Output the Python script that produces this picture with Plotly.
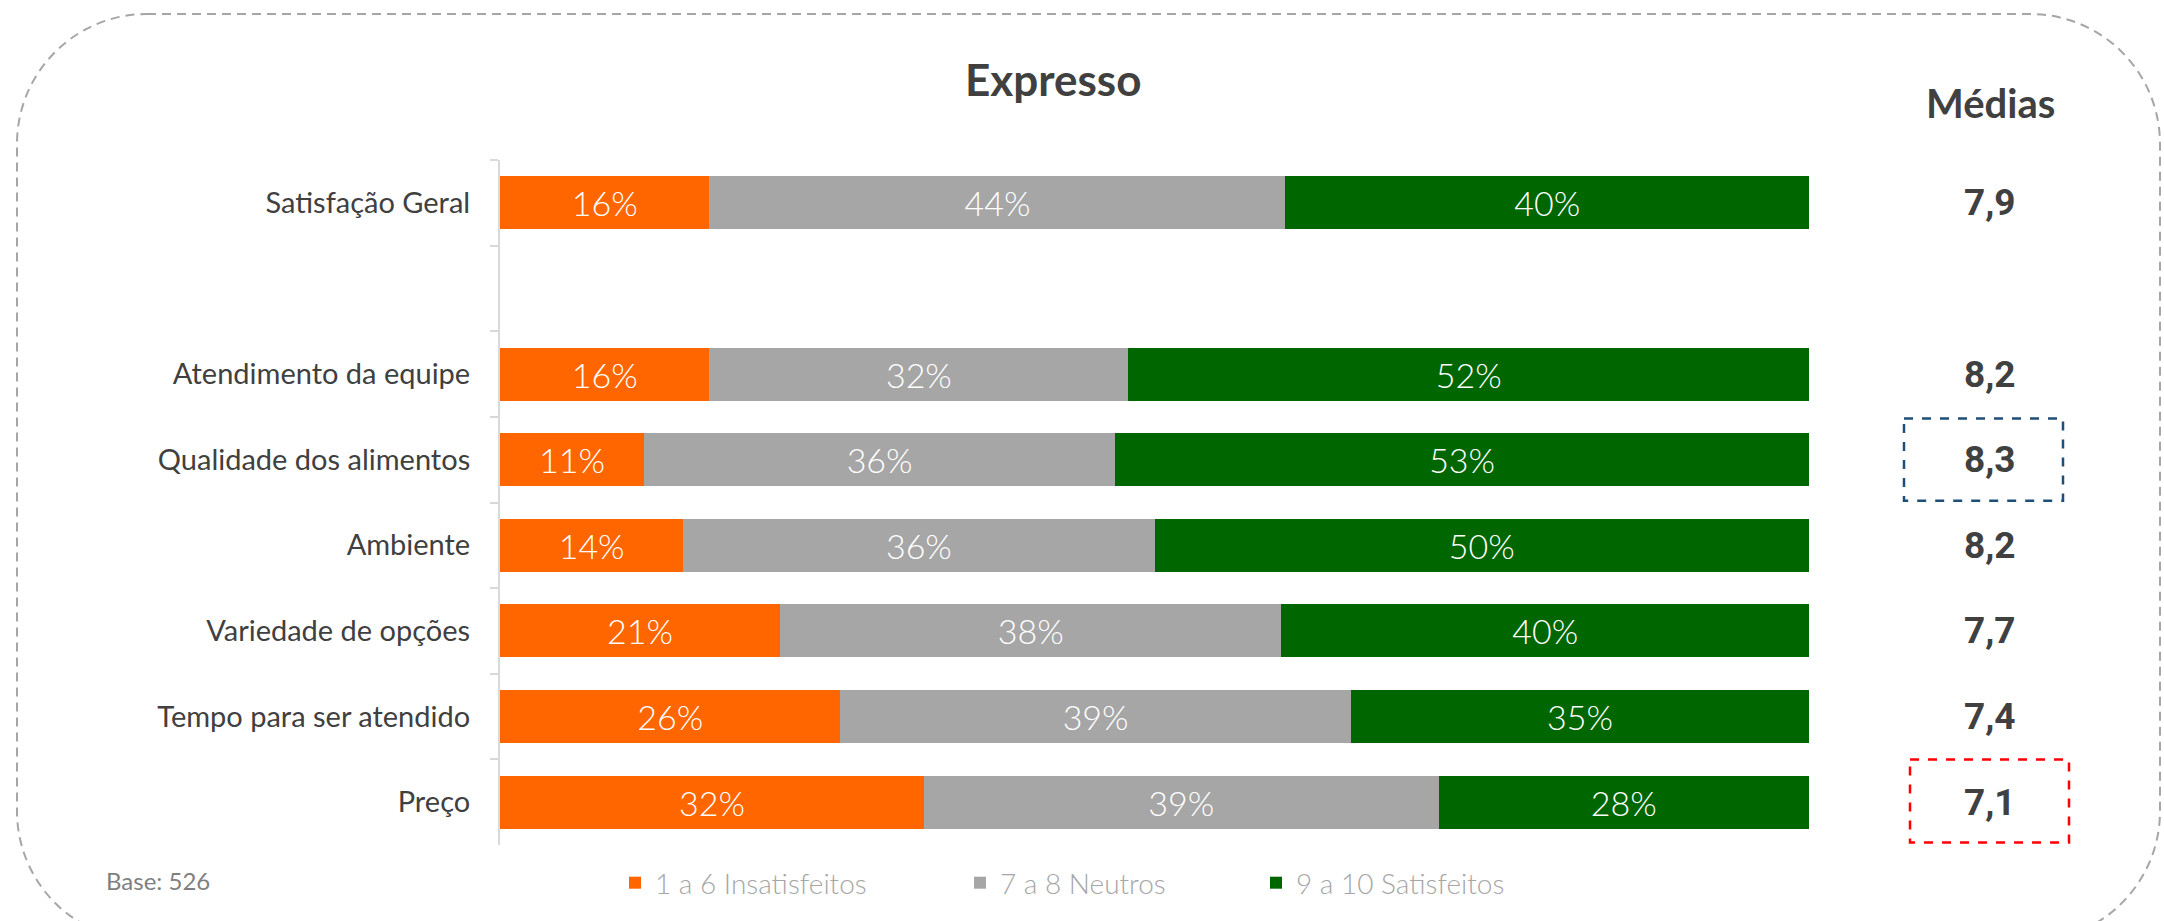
import plotly.graph_objects as go

categories = ["Satisfação Geral", " ", "Atendimento da equipe", "Qualidade dos alimentos",
              "Ambiente", "Variedade de opções", "Tempo para ser atendido", "Preço"]
bar_cats = ["Satisfação Geral", "Atendimento da equipe", "Qualidade dos alimentos",
            "Ambiente", "Variedade de opções", "Tempo para ser atendido", "Preço"]
insatisfeitos = [16.0, 16.0, 11.0, 14.0, 21.4, 26.0, 32.4]
neutros = [44.0, 32.0, 36.0, 36.0, 38.3, 39.0, 39.3]
satisfeitos = [40.0, 52.0, 53.0, 50.0, 40.3, 35.0, 28.3]
medias = [7.9, 8.2, 8.3, 8.2, 7.7, 7.4, 7.1]
series_names = ["1 a 6 Insatisfeitos", "7 a 8 Neutros", "9 a 10 Satisfeitos"]
series_colors = ["#FF6600", "#A6A6A6", "#006600"]
title_text = "Expresso"
medias_title = "Médias"
base_text = "Base: 526"

W, H = 2164, 921
ML, MR, MT, MB = 500, 355, 160, 76
PW, PH = W - ML - MR, H - MT - MB


def px(x):
    return (x - ML) / PW


def py(y):
    return (H - MB - y) / PH


legend_ids = ["legend", "legend2", "legend3"]
legend_x = [615, 960, 1256]

fig = go.Figure()
for name, vals, col, lid in zip(series_names, [insatisfeitos, neutros, satisfeitos], series_colors, legend_ids):
    fig.add_trace(go.Bar(
        y=bar_cats, x=vals, name=name, orientation="h", legend=lid,
        marker=dict(color=col, line=dict(width=0)),
        texttemplate="%{x:.0f}%", textposition="inside", insidetextanchor="middle",
        constraintext="none",
        textfont=dict(family="Lato", size=34, color="white", weight=300),
        hoverinfo="skip",
    ))

annotations = [
    dict(text=title_text, x=px(1053), y=py(79), xref="paper", yref="paper",
         showarrow=False, xanchor="center", yanchor="middle",
         font=dict(family="Lato", size=44, color="#404040", weight="bold")),
    dict(text=medias_title, x=px(1990), y=py(103), xref="paper", yref="paper",
         showarrow=False, xanchor="center", yanchor="middle",
         font=dict(family="Lato", size=40, color="#404040", weight="bold")),
    dict(text=base_text, x=px(104), y=py(880), xref="paper", yref="paper",
         showarrow=False, xanchor="left", yanchor="middle",
         font=dict(family="Lato", size=24, color="#7F7F7F")),
]
for c, m in zip(bar_cats, medias):
    annotations.append(dict(
        text=f"{m:.1f}".replace(".", ","), x=px(1990), y=c, xref="paper", yref="y",
        showarrow=False, xanchor="center", yanchor="middle",
        font=dict(family="Roboto", size=37, color="#404040", weight="bold")))

# rounded dashed frame
L, T, R, B, r = 17, 14, 2160, 941, 130
k = 0.5523
pts = [
    f"M{px(L + r)},{py(T)}",
    f"L{px(R - r)},{py(T)}",
    f"C{px(R - r + k * r)},{py(T)} {px(R)},{py(T + r - k * r)} {px(R)},{py(T + r)}",
    f"L{px(R)},{py(B - r)}",
    f"C{px(R)},{py(B - r + k * r)} {px(R - r + k * r)},{py(B)} {px(R - r)},{py(B)}",
    f"L{px(L + r)},{py(B)}",
    f"C{px(L + r - k * r)},{py(B)} {px(L)},{py(B - r + k * r)} {px(L)},{py(B - r)}",
    f"L{px(L)},{py(T + r)}",
    f"C{px(L)},{py(T + r - k * r)} {px(L + r - k * r)},{py(T)} {px(L + r)},{py(T)}",
    "Z",
]
shapes = [
    dict(type="path", path=" ".join(pts), xref="paper", yref="paper",
         line=dict(color="#A6A6A6", width=2, dash="9px,6px"), fillcolor="rgba(0,0,0,0)", layer="below"),
    dict(type="rect", xref="paper", yref="y", x0=px(1904), x1=px(2063), y0=2.52, y1=3.48,
         line=dict(color="#1F4E79", width=2.5, dash="dash")),
    dict(type="rect", xref="paper", yref="y", x0=px(1910), x1=px(2069), y0=6.5, y1=7.47,
         line=dict(color="#FF0000", width=2.5, dash="dash")),
]

legend_style = dict(orientation="h", xanchor="left", y=py(883), yanchor="middle",
                    font=dict(family="Lato", size=28, color="#A6A6A6", weight=300),
                    itemwidth=30, bgcolor="rgba(0,0,0,0)")
layout_legends = {lid: dict(legend_style, x=px(lx)) for lid, lx in zip(legend_ids, legend_x)}

fig.update_layout(
    width=W, height=H, barmode="stack", bargap=0.38,
    margin=dict(l=ML, r=MR, t=MT, b=MB, pad=0),
    paper_bgcolor="white", plot_bgcolor="white",
    showlegend=True,
    xaxis=dict(range=[0, 100], visible=False, fixedrange=True),
    yaxis=dict(type="category", categoryorder="array", categoryarray=categories,
               showline=True, linecolor="#D9D9D9", linewidth=2,
               ticks="outside", tickson="boundaries", ticklen=8, tickcolor="#D9D9D9", tickwidth=2,
               showgrid=False, zeroline=False, ticklabelstandoff=22,
               tickfont=dict(family="Lato", size=29, color="#404040")),
    annotations=annotations, shapes=shapes,
    **layout_legends,
)
fig.update_yaxes(range=[7.5, -0.5], autorange=False)

fig.write_html("out.html")
